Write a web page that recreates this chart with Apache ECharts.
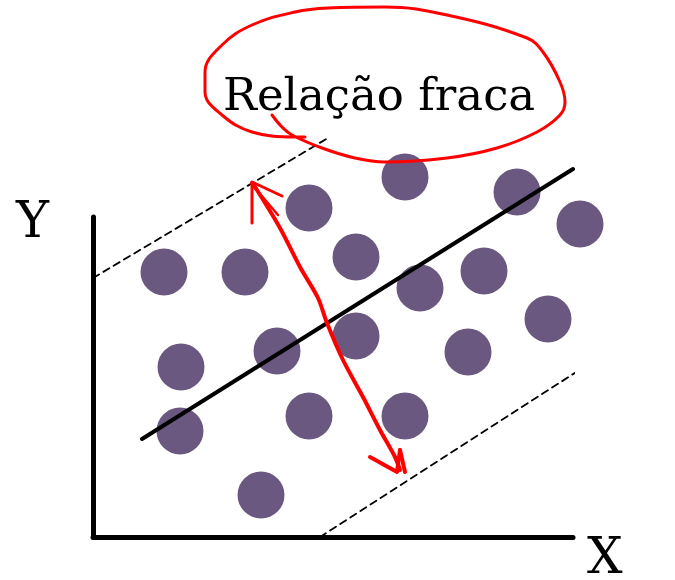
<!DOCTYPE html>
<html>
<head>
<meta charset="utf-8">
<script src="https://cdn.jsdelivr.net/npm/echarts@6/dist/echarts.min.js"></script>
<style>
html, body { margin: 0; padding: 0; background: #fff; }
#chart { width: 675px; height: 580px; }
</style>
</head>
<body>
<div id="chart"></div>
<script>
// dados: origem dos eixos = (0,0)
const pontos = [
  [312, 360], [424, 345], [216, 329], [487, 313],
  [71, 265], [152, 265], [263, 280], [391, 266], [327, 249],
  [455, 218], [263, 201], [184, 186], [88, 170], [375, 185],
  [87, 106], [216, 121], [312, 121], [168, 42]
]
const regressao = [[49, 98], [480, 368]]
const limiteSup = [[0, 259], [235, 399]]
const limiteInf = [[227, 0], [575, 224]]

// anotações à mão (vermelho)
const elipse = [
  [179, 422], [189, 410], [199, 402], [229, 389], [262, 379], [292, 375],
  [354, 379], [404, 389], [444, 405], [467, 422], [472, 435], [467, 455],
  [450, 485], [434, 499], [354, 522], [292, 530], [235, 529], [202, 525],
  [159, 512], [129, 492], [112, 465], [112, 445], [129, 422], [159, 405],
  [202, 400], [212, 400]
]
const seta = [
  [159, 354], [164, 347], [187, 309], [207, 270], [225, 239], [234, 214],
  [250, 177], [270, 140], [287, 107], [302, 80], [307, 67]
]
const pontaSup1 = [[189, 341], [159, 355], [159, 314]]
const pontaSup2 = [[162, 349], [185, 322]]
const pontaInf1 = [[277, 80], [304, 65], [307, 87]]
const pontaInf2 = [[312, 65], [307, 87]]

const chart = echarts.init(document.getElementById('chart'))

function linha(data, cor, largura, tipo, suave) {
  return {
    type: 'line',
    data: data,
    clip: false,
    silent: true,
    symbol: 'none',
    smooth: suave || false,
    lineStyle: { color: cor, width: largura, type: tipo || 'solid', cap: 'round', join: 'round' },
    z: 3
  }
}

const option = {
  backgroundColor: '#fff',
  animation: false,
  grid: { left: 93, top: 217, width: 480, height: 320 },
  xAxis: {
    type: 'value', min: 0, max: 480,
    splitLine: { show: false },
    axisTick: { show: false },
    axisLabel: { show: false },
    axisLine: { lineStyle: { color: '#000', width: 5 } }
  },
  yAxis: {
    type: 'value', min: 0, max: 320,
    splitLine: { show: false },
    axisTick: { show: false },
    axisLabel: { show: false },
    axisLine: { lineStyle: { color: '#000', width: 5 } }
  },
  graphic: [
    { type: 'text', left: 223, top: 76, style: { text: 'Relação fraca', font: '45px "DejaVu Serif"', fill: '#000' } },
    { type: 'text', left: 16, top: 199, style: { text: 'Y', font: '50px "DejaVu Serif"', fill: '#000' } },
    { type: 'text', left: 587, top: 535, style: { text: 'X', font: '50px "DejaVu Serif"', fill: '#000' } }
  ],
  series: [
    {
      type: 'scatter',
      data: pontos,
      clip: false,
      symbolSize: 47,
      itemStyle: { color: '#6a5880', opacity: 1 },
      z: 2
    },
    linha(regressao, '#000', 4),
    linha(limiteSup, '#000', 1.8, [7, 5]),
    linha(limiteInf, '#000', 1.8, [7, 5]),
    linha(elipse, '#f00', 3, 'solid', 0.4),
    linha(seta, '#f00', 4, 'solid', 0.3),
    linha(pontaSup1, '#f00', 3),
    linha(pontaSup2, '#f00', 2.5),
    linha(pontaInf1, '#f00', 4),
    linha(pontaInf2, '#f00', 4)
  ]
}

chart.setOption(option)
</script>
</body>
</html>
